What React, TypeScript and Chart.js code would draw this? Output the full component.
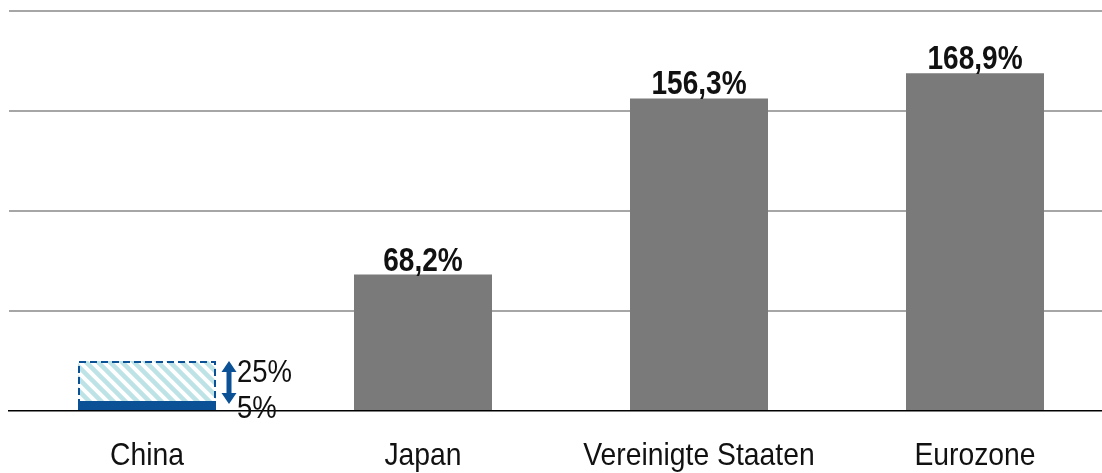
import React, { useEffect, useRef } from "react";
import { Chart, registerables } from "chart.js";

Chart.register(...registerables);

const categories = ["China", "Japan", "Vereinigte Staaten", "Eurozone"];
const values = [5, 68.2, 156.3, 168.9];
const valueLabels = ["", "68,2%", "156,3%", "168,9%"];
const chinaRange = [5, 25];
const chinaRangeLabels = ["25%", "5%"];
const yTicks = [0, 50, 100, 150, 200];

const FONT = '"Liberation Sans", Arial, sans-serif';
const DARK_BLUE = "#0a5196";
const GRAY = "#7a7a7a";
const TEXT = "#111";

function makePattern(): CanvasPattern | string {
  const c = document.createElement("canvas");
  c.width = 12;
  c.height = 12;
  const g = c.getContext("2d");
  if (!g) return "#bfe3e6";
  g.fillStyle = "#ffffff";
  g.fillRect(0, 0, 12, 12);
  g.strokeStyle = "#bde3e7";
  g.lineWidth = 4.5;
  g.lineCap = "square";
  for (const off of [-12, 0, 12]) {
    g.beginPath();
    g.moveTo(off, 0);
    g.lineTo(off + 12, 12);
    g.stroke();
  }
  const p = g.createPattern(c, "repeat");
  return p || "#bfe3e6";
}

function condensedText(
  ctx: CanvasRenderingContext2D,
  text: string,
  x: number,
  y: number,
  font: string,
  sx: number,
  align: CanvasTextAlign
) {
  ctx.save();
  ctx.font = font;
  ctx.fillStyle = TEXT;
  ctx.textAlign = align;
  ctx.textBaseline = "alphabetic";
  ctx.translate(x, y);
  ctx.scale(sx, 1);
  ctx.fillText(text, 0, 0);
  ctx.restore();
}

const overlayPlugin = {
  id: "overlay",
  afterDatasetsDraw(chart: any) {
    const ctx = chart.ctx;
    const y = chart.scales.y;
    const x = chart.scales.x;
    const meta = chart.getDatasetMeta(0);
    // category labels
    chart.data.labels.forEach((lab: string, i: number) => {
      condensedText(ctx, lab, x.getPixelForValue(i), chart.chartArea.bottom + 54, `32px ${FONT}`, 0.885, "center");
    });
    // value labels
    meta.data.forEach((bar: any, i: number) => {
      if (!valueLabels[i]) return;
      condensedText(ctx, valueLabels[i], bar.x, bar.y - 4, `bold 33px ${FONT}`, 0.85, "center");
    });
    // China range box
    ctx.save();
    const b = meta.data[0];
    const half = b.width / 2;
    const left = b.x - half;
    const right = b.x + half;
    const top = y.getPixelForValue(chinaRange[1]);
    const bottom = y.getPixelForValue(chinaRange[0]);
    ctx.fillStyle = makePattern();
    ctx.fillRect(left, top, right - left, bottom - top);
    ctx.setLineDash([7, 4]);
    ctx.strokeStyle = DARK_BLUE;
    ctx.lineWidth = 2;
    ctx.strokeRect(left + 1, top + 1, right - left - 2, bottom - top);
    ctx.setLineDash([]);
    // double arrow
    const ax = right + 13;
    const headH = 11;
    const headW = 7.5;
    ctx.fillStyle = DARK_BLUE;
    ctx.fillRect(ax - 2.5, top + headH - 1, 5, bottom - top - 2 * headH + 5);
    ctx.beginPath();
    ctx.moveTo(ax, top);
    ctx.lineTo(ax + headW, top + headH);
    ctx.lineTo(ax - headW, top + headH);
    ctx.closePath();
    ctx.fill();
    ctx.beginPath();
    ctx.moveTo(ax, bottom + 3);
    ctx.lineTo(ax + headW, bottom + 3 - headH);
    ctx.lineTo(ax - headW, bottom + 3 - headH);
    ctx.closePath();
    ctx.fill();
    ctx.restore();
    // range labels
    condensedText(ctx, chinaRangeLabels[0], ax + 8, top + 21, `32px ${FONT}`, 0.86, "left");
    condensedText(ctx, chinaRangeLabels[1], ax + 8, bottom + 17, `32px ${FONT}`, 0.86, "left");
  },
};

export default function App() {
  const ref = useRef<HTMLCanvasElement>(null);
  useEffect(() => {
    if (!ref.current) return;
    const chart = new Chart(ref.current, {
      type: "bar",
      data: {
        labels: categories,
        datasets: [
          {
            data: values,
            backgroundColor: values.map((_, i) => (i === 0 ? DARK_BLUE : GRAY)),
            barPercentage: 0.5,
            categoryPercentage: 1,
          },
        ],
      },
      options: {
        responsive: false,
        animation: false,
        layout: { padding: { left: 9, top: 11, right: 0, bottom: 62 } },
        plugins: { legend: { display: false }, tooltip: { enabled: false } },
        scales: {
          x: {
            grid: { display: false, drawTicks: false },
            border: { display: true, color: "#000", width: 1.5 },
            ticks: { display: false },
          },
          y: {
            min: yTicks[0],
            max: yTicks[yTicks.length - 1],
            afterBuildTicks: (axis: any) => {
              axis.ticks = yTicks.map((v) => ({ value: v }));
            },
            ticks: { display: false },
            border: { display: false },
            grid: {
              drawTicks: false,
              color: (c: any) => (c.tick && c.tick.value === 0 ? "rgba(0,0,0,0)" : "#a6a6a6"),
              lineWidth: 2,
            },
          },
        },
      },
      plugins: [overlayPlugin],
    });
    return () => chart.destroy();
  }, []);
  return (
    <div style={{ position: "absolute", left: 0, top: 0, width: 1102, height: 473, overflow: "hidden", background: "#fff" }}>
      <canvas ref={ref} width={1113} height={473} style={{ display: "block" }} />
    </div>
  );
}
